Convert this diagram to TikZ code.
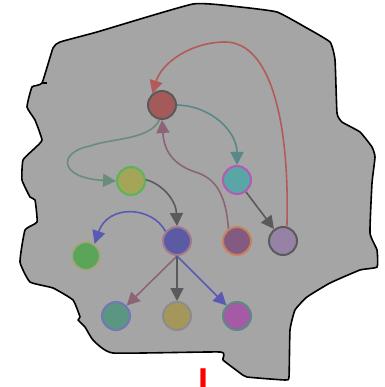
\documentclass[tikz,border=0pt]{standalone}
\usepackage{fontspec}
\newfontfamily\labelfont{Liberation Sans}
\usetikzlibrary{arrows.meta}
\definecolor{bgblob}{RGB}{165,165,165}
\definecolor{nred}{RGB}{165,90,90}
\definecolor{nyel}{RGB}{165,165,90}
\definecolor{ncyan}{RGB}{90,165,165}
\definecolor{nblue}{RGB}{90,90,165}
\definecolor{ndpur}{RGB}{130,90,130}
\definecolor{nlil}{RGB}{150,130,165}
\definecolor{ngreen}{RGB}{90,165,90}
\definecolor{nteal}{RGB}{90,150,130}
\definecolor{nolive}{RGB}{165,150,90}
\definecolor{nmag}{RGB}{165,90,165}
\definecolor{bgray}{RGB}{90,90,90}
\definecolor{bgreen}{RGB}{90,180,90}
\definecolor{bmag}{RGB}{180,90,180}
\definecolor{bpink}{RGB}{165,120,140}
\definecolor{borange}{RGB}{200,130,90}
\definecolor{bkhaki}{RGB}{165,165,130}
\definecolor{bblue}{RGB}{110,120,180}
\definecolor{bmid}{RGB}{140,140,140}
\definecolor{bteal}{RGB}{90,140,130}
\definecolor{ered}{RGB}{180,90,90}
\definecolor{eteal}{RGB}{90,135,135}
\definecolor{egt}{RGB}{106,140,122}
\definecolor{emauve}{RGB}{140,100,120}
\definecolor{eblue}{RGB}{90,90,180}
\tikzset{
  vtx/.style={circle,minimum size=28pt,inner sep=0pt,line width=2pt},
  edge/.style={line width=1.6pt,-{Triangle[length=13pt,width=13pt]}}
}
\begin{document}
\begin{tikzpicture}[x=1pt,y=-1pt]
\useasboundingbox (0,0) rectangle (384,387);
\draw[fill=bgblob,line width=1.6pt,line join=round]
 plot[smooth cycle,tension=0.25] coordinates {
 (193,4) (240,7) (277,12) (305,27) (330,42) (335,60) (337,113) (342,122)
 (360,132) (372,147) (375,157) (372,183) (370,233) (377,250) (377,267)
 (360,270) (330,283) (307,297) (295,310) (290,330) (289,377) (285,380)
 (247,377) (240,373) (223,360) (220,352) (113,353) (93,340) (85,327)
 (78,320) (80,317) (73,300) (53,288) (30,282) (20,262) (25,230) (37,222)
 (35,200) (30,197) (22,180) (23,160) (35,148) (42,140) (35,120) (27,107)
 (32,87) (42,83) (53,48) (60,42) (97,32)};
\draw[line width=1.2pt] (42,83) -- (47,83);

\node[vtx,fill=nred,draw=bgray] (red) at (162,105) {};
\node[vtx,fill=nyel,draw=bgreen] (yel) at (131,181) {};
\node[vtx,fill=ncyan,draw=bmag] (cyan) at (237,180) {};
\node[vtx,fill=nblue,draw=bpink] (blue) at (177,241) {};
\node[vtx,fill=ndpur,draw=borange] (dpur) at (237,241) {};
\node[vtx,fill=nlil,draw=bgray] (lil) at (283,241) {};
\node[vtx,fill=ngreen,draw=bkhaki] (grn) at (86,256) {};
\node[vtx,fill=nteal,draw=bblue] (teal) at (116,316) {};
\node[vtx,fill=nolive,draw=bmid] (olive) at (177,316) {};
\node[vtx,fill=nmag,draw=bteal] (mag) at (237,316) {};

\coordinate (peak) at (225,42);
\coordinate (loopl) at (90,146);
\coordinate (mid) at (195,172);

\draw[edge,ered] (lil.75) .. controls (290,120) and (270,42) .. (peak)
  .. controls (192,42) and (162,62) .. (red.130);
\draw[edge,eteal] (red.0) .. controls (212,106) and (237,132) .. (cyan.90);
\draw[edge,egt] (red.260) .. controls (150,140) and (112,138) .. (loopl)
  .. controls (58,152) and (58,178) .. (yel.180);
\draw[edge,emauve] (dpur.125) .. controls (226,195) and (216,178) .. (mid)
  .. controls (172,164) and (164,150) .. (red.270);
\draw[edge,bgray] (yel.5) .. controls (162,184) and (176,200) .. (blue.90);
\draw[edge,bgray] (cyan) -- (lil);
\draw[edge,eblue] (blue.140) .. controls (152,206) and (108,204) .. (grn.55);
\draw[edge,emauve] (blue.270) -- (teal);
\draw[edge,bgray] (blue.270) -- (olive);
\draw[edge,eblue] (blue.270) -- (mag);

\node[text=red,font=\labelfont\bfseries\fontsize{36}{36}\selectfont,inner sep=0pt,anchor=base] (lbl) at (203.5,393) {I};
\end{tikzpicture}
\end{document}
